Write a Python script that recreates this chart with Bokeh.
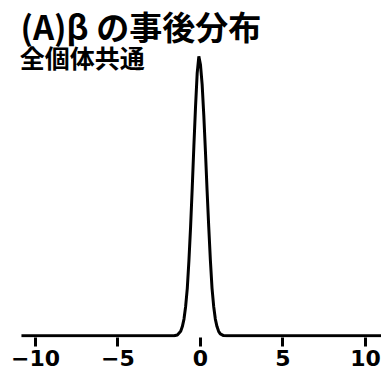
from bokeh.plotting import figure
from bokeh.models import Range1d, FixedTicker, Label
from bokeh.embed import file_html
from bokeh.resources import INLINE

title_text = "(A)β の事後分布"
subtitle_text = "全個体共通"
tick_values = [-10, -5, 0, 5, 10]
tick_labels = {-10: "−10", -5: "−5", 0: "0", 5: "5", 10: "10"}

beta_x = [-10.85, -1.6, -1.4, -1.2, -1.1, -1.0, -0.9, -0.8, -0.7, -0.6, -0.5, -0.4,
          -0.3, -0.2, -0.1, 0.0, 0.1, 0.2, 0.3, 0.4, 0.5, 0.6, 0.7, 0.8, 0.9,
          1.0, 1.1, 1.2, 1.4, 1.6, 10.97]
beta_density = [0.0, 0.0005, 0.003, 0.016, 0.033, 0.06, 0.105, 0.17, 0.27, 0.39, 0.53, 0.68,
                0.82, 0.94, 1.0, 0.97, 0.9, 0.79, 0.66, 0.52, 0.39, 0.27, 0.17, 0.105, 0.06,
                0.033, 0.016, 0.007, 0.001, 0.0, 0.0]

p = figure(width=381, height=376, output_backend="svg", toolbar_location=None,
           x_range=Range1d(-12.12, 10.97), y_range=Range1d(-0.006, 1.2),
           min_border_left=0, min_border_right=0, min_border_top=0, min_border_bottom=39)
p.outline_line_color = None
p.grid.visible = False
p.yaxis.visible = False
p.background_fill_color = "white"
p.border_fill_color = "white"

p.line(beta_x, beta_density, line_color="black", line_width=3)

ax = p.xaxis[0]
ax.ticker = FixedTicker(ticks=tick_values)
ax.major_label_overrides = tick_labels
ax.axis_line_color = None
ax.major_tick_line_color = "black"
ax.major_tick_line_width = 3
ax.major_tick_in = 0
ax.major_tick_out = 9
ax.minor_tick_line_color = None
ax.major_label_text_font = "DejaVu Sans"
ax.major_label_text_font_style = "bold"
ax.major_label_text_font_size = "22px"
ax.major_label_text_color = "black"
ax.major_label_standoff = 3

p.add_layout(Label(x=-10.91, y=1.195, text=title_text, text_font="Noto Sans CJK JP",
                   text_font_style="bold", text_font_size="33px", text_baseline="top",
                   text_color="black"))
p.add_layout(Label(x=-10.95, y=1.064, text=subtitle_text, text_font="Noto Sans CJK JP",
                   text_font_style="bold", text_font_size="25px", text_baseline="top",
                   text_color="black"))

open("out.html", "w").write(file_html(p, INLINE))
